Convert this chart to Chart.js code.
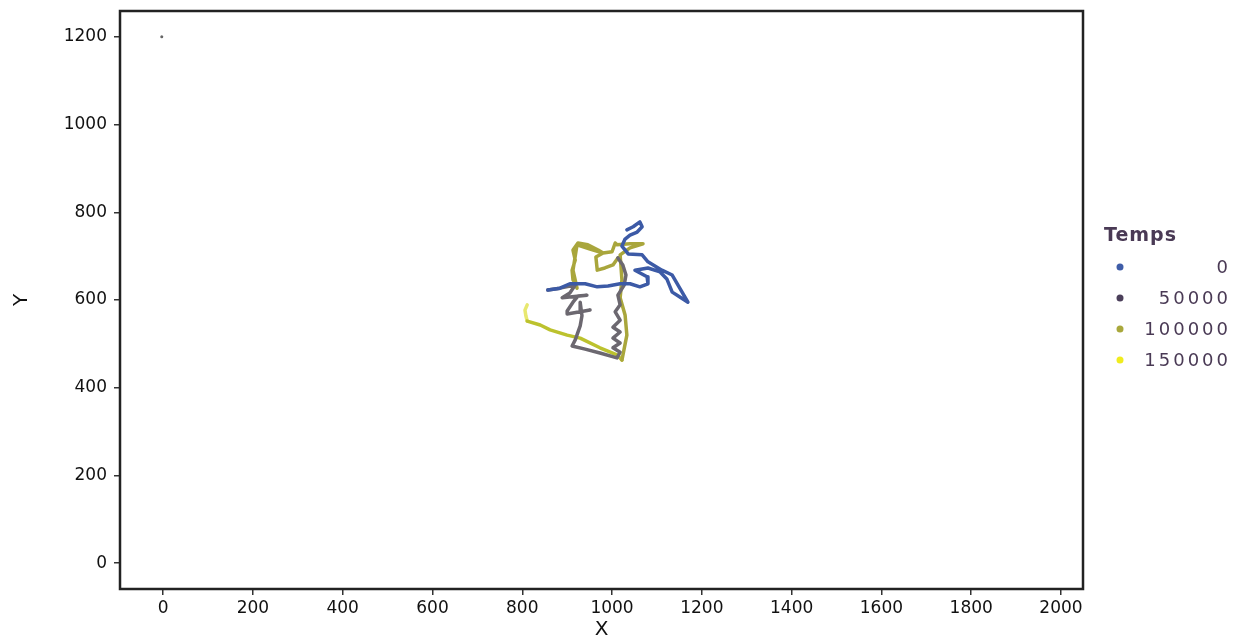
<!DOCTYPE html>
<html>
<head>
<meta charset="utf-8">
<script src="https://cdn.jsdelivr.net/npm/chart.js@4"></script>
<style>
  html, body { margin: 0; padding: 0; background: #fff; }
</style>
</head>
<body>
<canvas id="myChart" width="1234" height="642"></canvas>
<script>
"use strict";

//--------------------DATA

// path, split by time colour (start -> end)
let blueX = [1033, 1047, 1062, 1067, 1056, 1040, 1029, 1022, 1036, 1067, 1080, 1111, 1134, 1156, 1169,
  1151, 1134, 1122, 1107, 1080, 1051, 1078, 1080, 1062, 1040, 1018, 991, 967, 940, 906, 884, 857];
let blueY = [760, 767, 778, 767, 755, 748, 739, 723, 705, 703, 687, 668, 657, 618, 595,
  607, 618, 648, 664, 673, 668, 653, 637, 630, 637, 637, 632, 630, 637, 637, 627, 623];

let grayX = [857, 884, 918, 906, 889, 944, 924, 913, 900, 900, 951, 929, 929, 933, 929, 918, 911,
  940, 973, 1011, 1018, 1002, 1018, 1002, 1018, 1002, 1018, 1007, 1018, 1013, 1027, 1031, 1024, 1013];
let grayY = [623, 627, 634, 616, 605, 611, 609, 595, 575, 568, 577, 573, 595, 564, 541, 509, 495,
  488, 479, 468, 481, 491, 502, 513, 527, 538, 554, 573, 589, 611, 634, 657, 680, 696];

let oliveX = [1013, 1002, 984, 967, 964, 980, 969, 946, 924, 913, 918, 911, 913, 922, 913, 922, 951,
  980, 1000, 1007, 1011, 1040, 1069, 1040, 1018, 1022, 1018, 1029, 1033, 1022];
let oliveY = [696, 680, 673, 668, 698, 707, 714, 726, 730, 714, 691, 668, 646, 627, 668, 726, 716,
  707, 710, 730, 726, 728, 728, 719, 703, 646, 605, 566, 520, 463];

let limeX = [1022, 1011, 973, 929, 900, 862, 840, 811];
let limeY = [463, 475, 491, 513, 520, 532, 543, 552];

let yellowX = [811, 808, 806, 811];
let yellowY = [552, 564, 577, 589];

// lone point near the top left corner
let strayX = [-3];
let strayY = [1200];

// legend ("Temps")
let timeTicks = ["0", "50000", "100000", "150000"];
let timeColors = ["#3f5da8", "#4b3f5a", "#a9a83c", "#f0ec1e"];

// axes
let xTicks = [0, 200, 400, 600, 800, 1000, 1200, 1400, 1600, 1800, 2000];
let yTicks = [0, 200, 400, 600, 800, 1000, 1200];

//--------------------HELPERS

function toPoints(xs, ys) {
  let pts = [];
  for (let i = 0; i < xs.length; i++) {
    pts.push({ x: xs[i], y: ys[i] });
  }
  return pts;
}

function pathSet(xs, ys, color) {
  return {
    data: toPoints(xs, ys),
    showLine: true,
    borderColor: color,
    backgroundColor: color,
    borderWidth: 3.5,
    borderJoinStyle: "round",
    borderCapStyle: "round",
    pointRadius: 0,
    tension: 0,
  };
}

const FONT = "'DejaVu Sans', 'Liberation Sans', Arial, sans-serif";

// box round the plot area
const framePlugin = {
  id: "frame",
  afterDatasetsDraw(chart) {
    const a = chart.chartArea;
    const ctx = chart.ctx;
    ctx.save();
    ctx.strokeStyle = "#222";
    ctx.lineWidth = 2.5;
    ctx.strokeRect(a.left, a.top, a.right - a.left, a.bottom - a.top);
    ctx.restore();
  },
};

// "Temps" legend on the right
const tempsLegend = {
  id: "tempsLegend",
  afterDraw(chart) {
    const ctx = chart.ctx;
    ctx.save();
    ctx.fillStyle = "#4a3a55";
    ctx.textBaseline = "middle";
    ctx.letterSpacing = "1px";
    ctx.font = "bold 19px " + FONT;
    ctx.textAlign = "left";
    ctx.fillText("Temps", 1104, 236);
    ctx.font = "18px " + FONT;
    ctx.letterSpacing = "3px";
    ctx.textAlign = "right";
    for (let i = 0; i < timeTicks.length; i++) {
      let y = 267 + i * 31;
      ctx.beginPath();
      ctx.arc(1120, y, 3.5, 0, Math.PI * 2);
      ctx.fillStyle = timeColors[i];
      ctx.fill();
      ctx.fillStyle = "#4a3a55";
      ctx.fillText(timeTicks[i], 1231, y + 1);
    }
    ctx.restore();
  },
};

//--------------------CHART

const ctx = document.getElementById("myChart").getContext("2d");
const myChart = new Chart(ctx, {
  type: "scatter",
  data: {
    datasets: [
      pathSet(blueX, blueY, "#3c5aa6"),
      pathSet(grayX, grayY, "#6c6870"),
      pathSet(oliveX, oliveY, "#a9a63c"),
      pathSet(limeX, limeY, "#bcc22e"),
      pathSet(yellowX, yellowY, "#e8e870"),
      {
        data: toPoints(strayX, strayY),
        pointRadius: 1.5,
        backgroundColor: "#666",
        borderWidth: 0,
      },
    ],
  },
  options: {
    responsive: false,
    animation: false,
    layout: {
      padding: { top: 11, right: 151, left: 0, bottom: 0 },
    },
    plugins: {
      legend: { display: false },
      tooltip: { enabled: false },
    },
    scales: {
      x: {
        type: "linear",
        min: -96,
        max: 2049,
        afterBuildTicks: (scale) => {
          scale.ticks = xTicks.map((v) => ({ value: v }));
        },
        afterFit: (scale) => {
          scale.height = 53;
          scale.paddingLeft = 0;
          scale.paddingRight = 0;
        },
        border: { display: false },
        grid: {
          drawOnChartArea: false,
          drawTicks: true,
          tickLength: 6,
          color: "#333",
          lineWidth: 1.5,
        },
        ticks: {
          color: "#111",
          font: { family: FONT, size: 17 },
          padding: 3,
          maxRotation: 0,
          callback: (v) => String(v),
        },
        title: {
          display: true,
          text: "X",
          color: "#111",
          font: { family: FONT, size: 20 },
          padding: { top: 0, bottom: 0 },
        },
      },
      y: {
        type: "linear",
        min: -59,
        max: 1259,
        afterBuildTicks: (scale) => {
          scale.ticks = yTicks.map((v) => ({ value: v }));
        },
        afterFit: (scale) => {
          scale.width = 120;
          scale.paddingTop = 0;
          scale.paddingBottom = 0;
        },
        border: { display: false },
        grid: {
          drawOnChartArea: false,
          drawTicks: true,
          tickLength: 6,
          color: "#333",
          lineWidth: 1.5,
        },
        ticks: {
          color: "#111",
          font: { family: FONT, size: 17 },
          padding: 7,
          callback: (v) => String(v),
        },
        title: {
          display: true,
          text: "Y",
          color: "#111",
          font: { family: FONT, size: 20 },
          padding: { top: 10, bottom: 0 },
        },
      },
    },
  },
  plugins: [framePlugin, tempsLegend],
});
</script>
</body>
</html>
